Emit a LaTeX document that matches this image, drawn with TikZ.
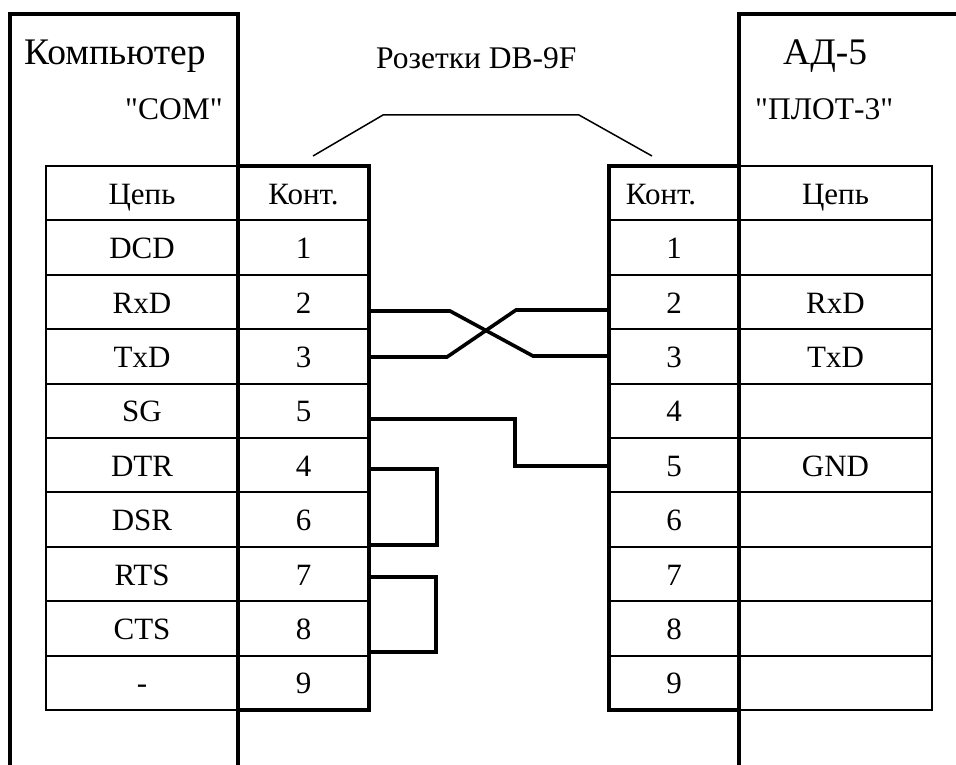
\documentclass[tikz,border=0pt]{standalone}
\usepackage{fontspec}
\setmainfont{Liberation Serif}
\newfontfamily\straightquotes{Liberation Serif}
\tikzset{
  cell/.style={draw, line width=2pt, inner sep=0pt, outer sep=0pt, minimum height=54.4pt,
    text height=24pt, text depth=2pt, font=\fontsize{31}{34}\selectfont},
  title/.style={anchor=base west, inner sep=0pt, font=\fontsize{37.5}{40}\selectfont},
  subtitle/.style={anchor=base west, inner sep=0pt, font=\straightquotes\fontsize{31.5}{34}\selectfont},
  heavy/.style={line width=4pt},
  wire/.style={line width=3.6pt},
}
\begin{document}
\begin{tikzpicture}[x=1pt,y=-1pt]
\useasboundingbox (0,0) rectangle (956,765);

\foreach \name [count=\i from 0] in {Цепь,DCD,RxD,TxD,SG,DTR,DSR,RTS,CTS,-}
\node[cell, minimum width=192pt] (lname\i) at (142,{166+54.4*(\i+.5)}) {\name};

\foreach \name [count=\i from 0] in {Конт.,1,2,3,5,4,6,7,8,9}
\node[cell, minimum width=131pt] (lpin\i) at (303.5,{166+54.4*(\i+.5)}) {\name};

\foreach \name [count=\i from 0] in {{Конт.\hspace*{26pt}},1,2,3,4,5,6,7,8,9}
\node[cell, minimum width=130pt] (rpin\i) at (674,{166+54.4*(\i+.5)}) {\name};

\foreach \name [count=\i from 0] in {Цепь,{},RxD,TxD,{},GND,{},{},{},{}}
\node[cell, minimum width=193pt] (rname\i) at (835.5,{166+54.4*(\i+.5)}) {\name};

\draw[heavy] (10,765) -- (10,14) -- (238,14) -- (238,765);
\draw[heavy] (956,14) -- (739,14) -- (739,765);
\draw[heavy] (lpin0.north west) rectangle (lpin9.south east);
\draw[heavy] (rpin0.north west) rectangle (rpin9.south east);

\node[title] (comp) at (24,65) {Компьютер};
\node[subtitle] (com) at (125,120) {"COM"};
\node[title] (adv) at (783,65) {АД-5};
\node[subtitle] (plot) at (755,120) {"ПЛОТ-3"};
\node[subtitle] (sock) at (376,69) {Розетки DB-9F};

\coordinate (lmark) at (313,156);
\coordinate (rmark) at (652,156);
\draw[line width=1.5pt] (lmark) -- (383,115) -- (579,115) -- (rmark);

\coordinate (l2) at (369,311);
\coordinate (l3) at (369,357);
\coordinate (l5) at (369,419);
\coordinate (l4) at (369,469);
\coordinate (l6) at (369,545);
\coordinate (l7) at (369,577);
\coordinate (l8) at (369,652);
\coordinate (r2) at (609,310);
\coordinate (r3) at (609,356);
\coordinate (r5) at (609,466);

\draw[wire] (l2) -- (450,311) -- (533,356) -- (r3);
\draw[wire] (l3) -- (447,357) -- (516,310) -- (r2);
\draw[wire] (l5) -- (515,419) -- (515,466) -- (r5);
\draw[wire] (l4) -- (437,469) -- (437,545) -- (l6);
\draw[wire] (l7) -- (436,577) -- (436,652) -- (l8);

\end{tikzpicture}
\end{document}
